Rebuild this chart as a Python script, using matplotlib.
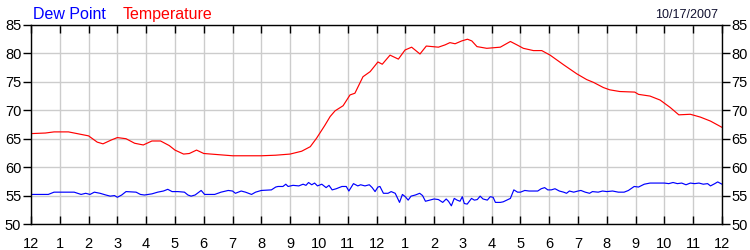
import matplotlib
matplotlib.use("Agg")
import matplotlib.pyplot as plt

plt.rcParams['font.family'] = ['Liberation Sans', 'DejaVu Sans']

temp_hours = [0, 0.5, 0.8, 1.3, 1.6, 2.0, 2.3, 2.5, 2.8, 3.0, 3.3, 3.6, 3.9, 4.2, 4.5,
              4.8, 5.0, 5.3, 5.5, 5.75, 6.0, 6.5, 7.0, 7.5, 8.0, 8.5, 9.0, 9.4, 9.7,
              9.92, 10.2, 10.39, 10.56, 10.84, 11.08, 11.25, 11.53, 11.78, 12.05, 12.2,
              12.47, 12.76, 12.99, 13.22, 13.51, 13.73, 14.15, 14.38, 14.55, 14.73,
              14.96, 15.16, 15.31, 15.49, 15.83, 16.3, 16.65, 16.88, 17.1, 17.45, 17.74,
              18.03, 18.5, 18.96, 19.3, 19.54, 19.88, 20.1, 20.45, 20.97, 21.1, 21.5,
              21.85, 22.2, 22.5, 22.9, 23.25, 23.6, 24.0]
temp_vals = [65.9, 66.0, 66.2, 66.2, 65.9, 65.5, 64.4, 64.1, 64.8, 65.2, 65.0, 64.2, 63.9,
             64.6, 64.6, 63.8, 63.0, 62.3, 62.4, 63.0, 62.4, 62.2, 62.0, 62.0, 62.0,
             62.1, 62.3, 62.8, 63.6, 65.1, 67.3, 68.9, 69.9, 70.8, 72.7, 73.0, 75.9,
             76.8, 78.5, 78.1, 79.7, 79.0, 80.6, 81.1, 79.9, 81.3, 81.1, 81.5, 81.9,
             81.7, 82.2, 82.5, 82.2, 81.2, 80.9, 81.1, 82.1, 81.5, 80.9, 80.5, 80.5,
             79.7, 78.0, 76.4, 75.4, 74.9, 74.0, 73.6, 73.3, 73.2, 72.8, 72.5, 71.8,
             70.5, 69.2, 69.3, 68.8, 68.1, 67.0]

dew_hours = [0.0, 0.6, 0.8, 1.5, 1.74, 1.9, 2.05, 2.2, 2.4, 2.6, 2.75, 2.9, 3.0, 3.15,
             3.3, 3.65, 3.8, 3.94, 4.2, 4.4, 4.6, 4.75, 4.9, 5.1, 5.33, 5.45, 5.56, 5.7,
             5.91, 6.03, 6.38, 6.6, 6.85, 7.0, 7.1, 7.2, 7.3, 7.45, 7.55, 7.66, 7.8, 8.0,
             8.35, 8.5, 8.58, 8.75, 8.85, 8.93, 9.1, 9.3, 9.45, 9.55, 9.64, 9.75, 9.85,
             9.95, 10.1, 10.25, 10.35, 10.46, 10.6, 10.8, 10.95, 11.04, 11.2, 11.35,
             11.45, 11.6, 11.75, 11.85, 11.95, 12.05, 12.12, 12.24, 12.4, 12.51, 12.65,
             12.8, 12.9, 13.0, 13.1, 13.2, 13.35, 13.5, 13.6, 13.7, 13.85, 14.0, 14.15,
             14.3, 14.42, 14.5, 14.6, 14.7, 14.8, 14.9, 14.98, 15.05, 15.15, 15.3, 15.4,
             15.5, 15.6, 15.7, 15.85, 15.95, 16.05, 16.13, 16.3, 16.4, 16.65, 16.77,
             16.9, 17.0, 17.15, 17.3, 17.6, 17.72, 17.84, 17.95, 18.07, 18.2, 18.35,
             18.5, 18.6, 18.7, 18.85, 19.0, 19.1, 19.25, 19.4, 19.5, 19.7, 19.85, 20.0,
             20.2, 20.4, 20.6, 20.75, 20.95, 21.1, 21.3, 21.5, 21.75, 22.0, 22.15, 22.3,
             22.45, 22.6, 22.75, 22.9, 23.05, 23.2, 23.35, 23.5, 23.6, 23.75, 23.85, 24.0]
dew_vals = [55.2, 55.2, 55.6, 55.6, 55.2, 55.4, 55.2, 55.6, 55.4, 55.1, 54.9, 55.0, 54.7,
            55.1, 55.7, 55.6, 55.2, 55.1, 55.3, 55.6, 55.8, 56.1, 55.7, 55.7, 55.6, 55.1,
            54.9, 55.1, 55.9, 55.2, 55.2, 55.6, 55.9, 55.8, 55.4, 55.6, 55.8, 55.6, 55.4,
            55.2, 55.6, 55.9, 56.0, 56.5, 56.6, 56.6, 57.0, 56.6, 56.8, 56.7, 57.0, 56.8,
            57.3, 56.9, 57.2, 56.7, 57.0, 56.4, 56.8, 56.0, 56.2, 56.6, 56.6, 55.8, 57.1,
            56.7, 56.9, 56.7, 56.9, 56.4, 55.7, 56.5, 56.6, 55.4, 55.4, 55.7, 55.4, 53.8,
            55.2, 54.8, 54.2, 54.9, 55.1, 55.4, 55.0, 54.0, 54.2, 54.4, 54.3, 53.8, 54.4,
            54.0, 53.2, 54.5, 54.2, 54.0, 54.8, 53.6, 53.5, 54.5, 54.2, 54.3, 54.9, 54.4,
            54.2, 54.8, 54.7, 53.8, 53.8, 53.9, 54.5, 56.0, 55.6, 55.6, 55.9, 55.8, 55.8,
            56.2, 56.4, 56.0, 56.0, 56.2, 55.8, 55.6, 55.4, 55.8, 55.6, 55.8, 55.9, 55.6,
            55.4, 55.7, 55.6, 55.8, 55.7, 55.8, 55.6, 55.6, 55.9, 56.6, 56.5, 57.0, 57.2,
            57.2, 57.2, 57.1, 57.3, 57.1, 57.2, 56.9, 57.2, 57.1, 57.2, 57.0, 57.1, 56.7,
            57.1, 57.4, 57.0]

hour_ticks = list(range(0, 25))
hour_labels = ['12'] + [str(h) for h in range(1, 12)] + ['12'] + [str(h) for h in range(1, 12)] + ['12']
y_ticks = [50, 55, 60, 65, 70, 75, 80, 85]

fig = plt.figure(figsize=(7.5, 2.5), dpi=100)
ax = fig.add_axes([31/750, 1-224/250, (722-31)/750, (224-25)/250])

ax.plot(temp_hours, temp_vals, color='#ff0000', lw=0.85)
ax.plot(dew_hours, dew_vals, color='#0000ff', lw=0.85)

ax.set_xlim(0, 24)
ax.set_ylim(50, 85)
ax.set_xticks(hour_ticks)
ax.set_xticklabels(hour_labels)
ax.set_yticks(y_ticks)
ax.grid(True, color='#cccccc', lw=1.0)
ax.set_axisbelow(True)
for s in ax.spines.values():
    s.set_color('black')
    s.set_linewidth(1.0)

ax.tick_params(axis='x', direction='in', top=True, bottom=True, length=6, width=1,
               labelsize=10.5, pad=9, colors='black')
ax.tick_params(axis='y', direction='out', left=True, right=True, labelleft=True,
               labelright=True, length=6, width=1, labelsize=10.5, pad=1, colors='black')

fig.text(33/750, 1-19/250, 'Dew Point', color='#0000ff', fontsize=11.5, va='baseline', ha='left')
fig.text(123/750, 1-19/250, 'Temperature', color='#ff0000', fontsize=11.5, va='baseline', ha='left')
fig.text(718/750, 1-18/250, '10/17/2007', color='#101030', fontsize=9, va='baseline', ha='right')

fig.savefig('out.png', dpi=100)
